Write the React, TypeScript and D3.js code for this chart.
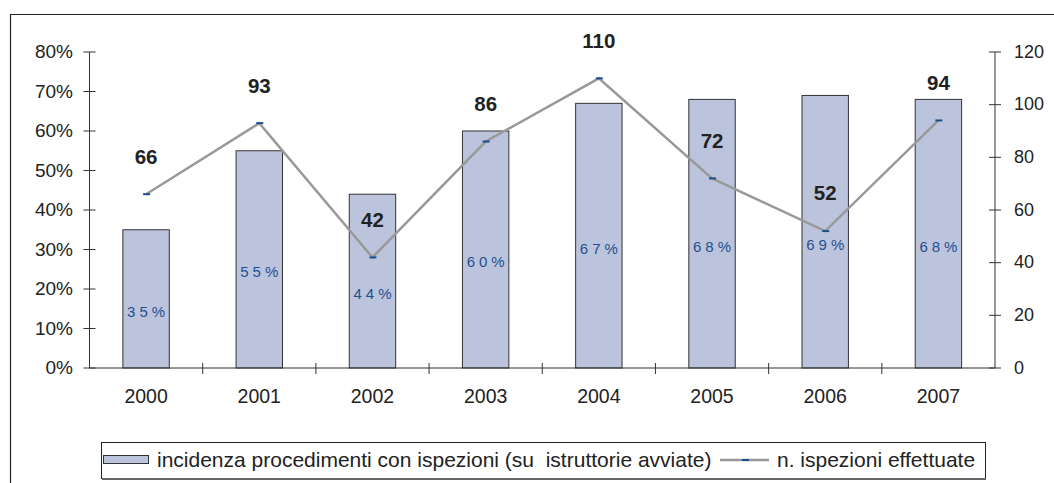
import React from "react";
import * as d3 from "d3";

const years = ["2000", "2001", "2002", "2003", "2004", "2005", "2006", "2007"];
const incidenza = [35, 55, 44, 60, 67, 68, 69, 68];
const ispezioni = [66, 93, 42, 86, 110, 72, 52, 94];
const leftTicks = [0, 10, 20, 30, 40, 50, 60, 70, 80];
const rightTicks = [0, 20, 40, 60, 80, 100, 120];
const legendBar = "incidenza procedimenti con ispezioni (su  istruttorie avviate)";
const legendLine = "n. ispezioni effettuate";

const W = 1054, H = 483;
const L = 89.5, R = 995, T = 52, B = 368;
const font = "'Liberation Sans', Arial, Helvetica, sans-serif";

export default function App() {
  const x = d3.scaleBand<string>().domain(years).range([L, R]).paddingInner(0.59).paddingOuter(0.295);
  const xb = d3.scaleBand<string>().domain(years).range([L, R]);
  const yL = d3.scaleLinear().domain([0, 80]).range([B, T]);
  const yR = d3.scaleLinear().domain([0, 120]).range([B, T]);
  const line = d3.line<number>().x((_, i) => xb(years[i])! + xb.bandwidth() / 2).y((d) => yR(d));

  return (
    <svg width={W} height={H} style={{ position: "absolute", left: 0, top: 0 }} fontFamily={font}>
      <rect x={0} y={0} width={W} height={H} fill="#fff" />
      <path d={`M10.5,${H} V14.5 H${W}`} fill="none" stroke="#222" strokeWidth={1.2} />
      {/* bars */}
      {years.map((yr, i) => (
        <g key={yr}>
          <rect x={x(yr)} y={yL(incidenza[i])} width={x.bandwidth()} height={B - yL(incidenza[i])} fill="#bcc4dd" stroke="#333" strokeWidth={1} />
          <text x={x(yr)! + x.bandwidth() / 2 + 2} y={(yL(incidenza[i]) + B) / 2 + 14} textAnchor="middle" dominantBaseline="middle" fontSize={15} fill="#1f4f8f" letterSpacing={4}>
            {incidenza[i]}%
          </text>
        </g>
      ))}
      {/* left axis */}
      <line x1={L} x2={L} y1={T} y2={B} stroke="#333" strokeWidth={1} />
      {leftTicks.map((t) => (
        <g key={t}>
          <line x1={L - 6} x2={L + 6} y1={yL(t)} y2={yL(t)} stroke="#333" />
          <text x={73} y={yL(t) + 1} textAnchor="end" dominantBaseline="middle" fontSize={19} fill="#222">{t}%</text>
        </g>
      ))}
      {/* right axis */}
      <line x1={R} x2={R} y1={T} y2={B} stroke="#333" strokeWidth={1} />
      {rightTicks.map((t) => (
        <g key={t}>
          <line x1={R - 6} x2={R + 6} y1={yR(t)} y2={yR(t)} stroke="#333" />
          <text x={1014} y={yR(t) + 1} textAnchor="start" dominantBaseline="middle" fontSize={18} fill="#222">{t}</text>
        </g>
      ))}
      {/* x axis */}
      <line x1={L} x2={R} y1={B} y2={B} stroke="#333" />
      {years.map((yr, i) => (
        <g key={yr}>
          {i > 0 && <line x1={xb(yr)} x2={xb(yr)} y1={B - 5} y2={B + 6} stroke="#333" />}
          <text x={xb(yr)! + xb.bandwidth() / 2} y={398} textAnchor="middle" dominantBaseline="middle" fontSize={19.5} fill="#222">{yr}</text>
        </g>
      ))}
      {/* line */}
      <path d={line(ispezioni)!} fill="none" stroke="#999" strokeWidth={2.5} />
      {ispezioni.map((v, i) => {
        const cx = xb(years[i])! + xb.bandwidth() / 2;
        return (
          <g key={i}>
            <line x1={cx - 3} x2={cx + 4} y1={yR(v)} y2={yR(v)} stroke="#1a4f8f" strokeWidth={2} />
            <text x={cx} y={yR(v) - 36} textAnchor="middle" dominantBaseline="middle" fontSize={20.5} fontWeight="bold" fill="#222">{v}</text>
          </g>
        );
      })}
      {/* legend */}
      <rect x={101.5} y={442.5} width={884} height={36} fill="#fff" stroke="#222" strokeWidth={1} />
      <line x1={102} x2={986} y1={479} y2={479} stroke="#666" strokeWidth={2} />
      <rect x={103.5} y={455.5} width={45} height={8} fill="#bcc4dd" stroke="#333" />
      <text x={157} y={461} dominantBaseline="middle" fontSize={21} fill="#222" style={{ whiteSpace: "pre" }}>{legendBar}</text>
      <line x1={720} x2={769} y1={460} y2={460} stroke="#999" strokeWidth={2.5} />
      <line x1={742} x2={749} y1={460} y2={460} stroke="#1a4f8f" strokeWidth={2} />
      <text x={777} y={461} dominantBaseline="middle" fontSize={21} fill="#222">{legendLine}</text>
    </svg>
  );
}
